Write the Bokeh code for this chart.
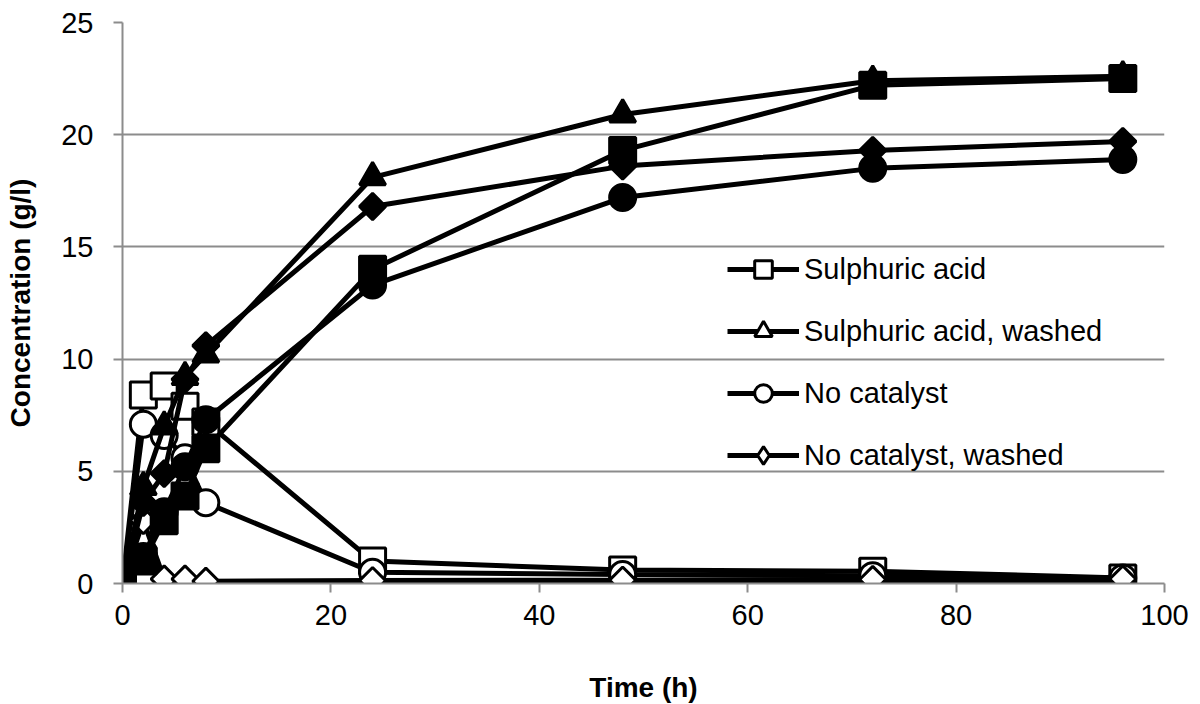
import math
from bokeh.plotting import figure
from bokeh.models import Range1d, Legend, LegendItem, FixedTicker
from bokeh.embed import file_html
from bokeh.resources import INLINE

time_h = [0, 2, 4, 6, 8, 24, 48, 72, 96]

# open markers (legend series)
sulph_open = [0.0, 8.4, 8.8, 7.9, 7.2, 1.0, 0.6, 0.55, 0.25]
sulph_w_open = [0.0, 1.9, 0.05, 0.0, 0.0, 0.0, 0.0, 0.0, 0.0]
noc_open = [0.0, 7.1, 6.6, 5.6, 3.6, 0.5, 0.4, 0.35, 0.25]
noc_w_open = [0.0, 2.8, 0.2, 0.2, 0.1, 0.13, 0.15, 0.18, 0.2]

# filled markers
sulph_fill = [0.0, 1.0, 2.8, 3.9, 6.0, 14.0, 19.3, 22.2, 22.5]
sulph_w_fill = [0.0, 4.3, 7.0, 9.2, 10.2, 18.1, 20.9, 22.4, 22.6]
noc_fill = [0.0, 1.2, 3.2, 5.2, 7.3, 13.3, 17.2, 18.5, 18.9]
noc_w_fill = [0.0, 3.6, 4.9, 9.1, 10.6, 16.8, 18.6, 19.3, 19.7]

labels = ["Sulphuric acid", "Sulphuric acid, washed", "No catalyst", "No catalyst, washed"]
markers = ["square", "triangle", "circle", "diamond"]

FONT = "Liberation Sans"
GRID = "#8c8c8c"

p = figure(frame_width=1042, frame_height=561, output_backend="svg", toolbar_location=None,
           x_range=Range1d(0, 100), y_range=Range1d(0, 25),
           min_border_left=122, min_border_right=27, min_border_top=22, min_border_bottom=110)
p.outline_line_color = None
p.xgrid.grid_line_color = None
p.ygrid.grid_line_color = GRID
p.ygrid.grid_line_width = 2
p.xaxis.ticker = FixedTicker(ticks=[0, 20, 40, 60, 80, 100])
p.yaxis.ticker = FixedTicker(ticks=[0, 5, 10, 15, 20, 25])
for ax in (p.xaxis, p.yaxis):
    ax.axis_line_color = GRID
    ax.axis_line_width = 2
    ax.major_tick_line_color = GRID
    ax.major_tick_line_width = 2
    ax.major_tick_out = 9
    ax.major_tick_in = 0
    ax.minor_tick_line_color = None
    ax.major_label_text_font = FONT
    ax.major_label_text_font_size = "29px"
    ax.major_label_text_color = "black"
    ax.axis_label_text_font = FONT
    ax.axis_label_text_font_size = "28px"
    ax.axis_label_text_font_style = "bold"
    ax.axis_label_text_color = "black"
p.xaxis.axis_label = "Time (h)"
p.yaxis.axis_label = "Concentration (g/l)"
p.yaxis.major_label_standoff = 20
p.xaxis.major_label_standoff = 12
p.yaxis.axis_label_standoff = 22
p.xaxis.axis_label_standoff = 44

open_series = [sulph_open, sulph_w_open, noc_open, noc_w_open]
fill_series = [sulph_fill, sulph_w_fill, noc_fill, noc_w_fill]


def draw(ys, mk, fill):
    ln = p.line(time_h, ys, line_color="black", line_width=5)
    if mk == "diamond":
        sc = p.scatter(time_h, ys, marker="square", angle=math.pi / 4, size=18.5,
                       fill_color=fill, line_color="black", line_width=3)
        # legend-only glyph (not shown in plot)
        leg = p.scatter(time_h, ys, marker="diamond", size=26, fill_color=fill,
                        line_color="black", line_width=3, visible=False)
        return ln, leg
    sc = p.scatter(time_h, ys, marker=mk, size=26, fill_color=fill,
                   line_color="black", line_width=3)
    return ln, sc


items = []
for lab, mk, ys in zip(labels, markers, open_series):
    ln, sc = draw(ys, mk, "white")
    items.append(LegendItem(label=lab, renderers=[ln, sc]))

for mk, ys in zip(markers, fill_series):
    draw(ys, mk, "black")

legend = Legend(items=items, location=(605, 106), orientation="vertical",
                glyph_width=72, glyph_height=44, spacing=18, padding=0, margin=0,
                label_standoff=5, label_text_font=FONT, label_text_font_size="29px",
                label_text_color="black", border_line_color=None, background_fill_alpha=0)
p.add_layout(legend, "center")

open("out.html", "w").write(file_html(p, INLINE))
